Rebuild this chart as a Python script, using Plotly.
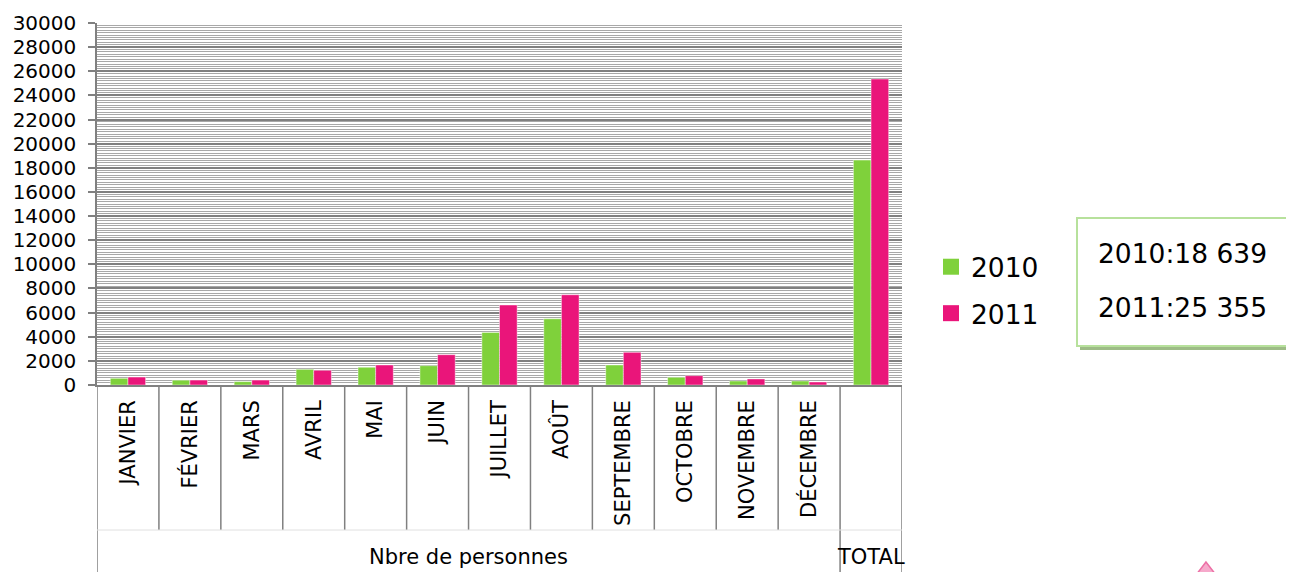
import plotly.graph_objects as go

months = ["JANVIER", "FÉVRIER", "MARS", "AVRIL", "MAI", "JUIN", "JUILLET",
          "AOÛT", "SEPTEMBRE", "OCTOBRE", "NOVEMBRE", "DÉCEMBRE"]
total_label = "TOTAL"
group_label = "Nbre de personnes"
categories = months + [total_label]
x_ticktext = months + [""]

v2010 = [555, 400, 280, 1300, 1470, 1600, 4360, 5490, 1660, 640, 330, 330, 18639]
v2011 = [660, 410, 410, 1220, 1660, 2510, 6630, 7480, 2710, 770, 500, 250, 25355]
series_names = ["2010", "2011"]
colors = ["#7FD13B", "#EA157A"]

y_ticks = list(range(0, 30001, 2000))
y_ticktext = [str(v) for v in y_ticks]

FONT = "DejaVu Sans"
OFF = 8                      # default body margin of the page
PAGE_W, PAGE_H = 1294, 572
W, H = PAGE_W - OFF, PAGE_H - OFF
PL, PT, PR_, PB = 97, 23, 902, 385   # plot area in page pixels
L, T = PL - OFF, PT - OFF
PW, PH = PR_ - PL, PB - PT
R, B = W - L - PW, H - T - PH


def px(x):
    return (x - PL) / PW


def py(y):
    return (PB - y) / PH


fig = go.Figure()
for name, vals, col in zip(series_names, [v2010, v2011], colors):
    fig.add_trace(go.Bar(
        x=categories, y=vals, name=name, showlegend=False,
        marker=dict(color=col, line=dict(color="rgba(255,255,255,0.55)", width=0.8)),
    ))
for name, col in zip(series_names, colors):
    fig.add_trace(go.Scatter(
        x=[None], y=[None], name=name, mode="markers", legendgroup=name,
        marker=dict(symbol="square", size=16, color=col),
    ))

shapes = []
n = len(categories)
for i in range(n + 1):
    outer = i in (0, n - 1, n)
    shapes.append(dict(type="line", xref="x", yref="paper",
                       x0=i - 0.5, x1=i - 0.5, y0=0, y1=py(PAGE_H + 5) if outer else py(530),
                       line=dict(color="#808080", width=1.5)))
shapes.append(dict(type="line", xref="paper", yref="paper",
                   x0=0, x1=1, y0=py(530), y1=py(530),
                   line=dict(color="#e0e0e0", width=1)))
shapes.append(dict(type="rect", xref="paper", yref="paper",
                   x0=px(1080), x1=px(1300), y0=py(350), y1=py(221),
                   fillcolor="#9DBB86", line=dict(width=0), layer="above"))
shapes.append(dict(type="rect", xref="paper", yref="paper",
                   x0=px(1077), x1=px(1300), y0=py(346), y1=py(218),
                   fillcolor="white", line=dict(color="#B7E19C", width=2), layer="above"))
tri = "M {:.4f},{:.4f} L {:.4f},{:.4f} L {:.4f},{:.4f} Z".format(
    px(1206), py(562), px(1196), py(575), px(1216), py(575))
shapes.append(dict(type="path", xref="paper", yref="paper", path=tri,
                   fillcolor="#F6A9CB", line=dict(color="#EC6FA5", width=1.5)))

annotations = [
    dict(text=group_label, xref="x", yref="paper", x=5.5, y=py(557), yanchor="middle",
         showarrow=False, font=dict(family=FONT, size=21, color="black")),
    dict(text=total_label, xref="x", yref="paper", x=n - 1, y=py(557), yanchor="middle",
         showarrow=False, font=dict(family=FONT, size=21, color="black")),
]
for i, (name, vals) in enumerate(zip(series_names, [v2010, v2011])):
    txt = "{}:{}".format(name, "{:,}".format(vals[-1]).replace(",", " "))
    annotations.append(dict(text=txt, xref="paper", yref="paper",
                            x=px(1096), y=py(253 + 54 * i), xanchor="left", yanchor="middle",
                            showarrow=False, font=dict(family=FONT, size=26.5, color="black")))

fig.update_layout(
    width=W, height=H,
    margin=dict(l=L, r=R, t=T, b=B, autoexpand=False),
    paper_bgcolor="white", plot_bgcolor="white",
    barmode="group", bargap=0.43, bargroupgap=0,
    font=dict(family=FONT, color="black"),
    showlegend=True,
    legend=dict(x=px(931), y=py(243), xanchor="left", yanchor="top",
                font=dict(family=FONT, size=26.5), tracegroupgap=9,
                bgcolor="rgba(0,0,0,0)", itemwidth=30),
    shapes=shapes, annotations=annotations,
    xaxis=dict(type="category", categoryorder="array", categoryarray=categories,
               tickvals=categories, ticktext=x_ticktext,
               tickangle=-90, tickfont=dict(family=FONT, size=21),
               showgrid=False, showline=True, linecolor="#808080", linewidth=1.5,
               ticks="outside", ticklen=5, tickcolor="rgba(0,0,0,0)",
               range=[-0.5, n - 0.5], fixedrange=True),
    yaxis=dict(range=[0, 30000], tickvals=y_ticks, ticktext=y_ticktext,
               tickfont=dict(family=FONT, size=20),
               showline=True, linecolor="#808080", linewidth=1.5,
               ticks="outside", ticklen=7, tickcolor="#808080", tickwidth=1.5,
               ticklabelstandoff=8,
               showgrid=True, gridcolor="#808080", gridwidth=1.5,
               zeroline=False,
               minor=dict(dtick=200, showgrid=True, gridcolor="#A8A8A8", gridwidth=1)),
)

fig.write_html("out.html")
